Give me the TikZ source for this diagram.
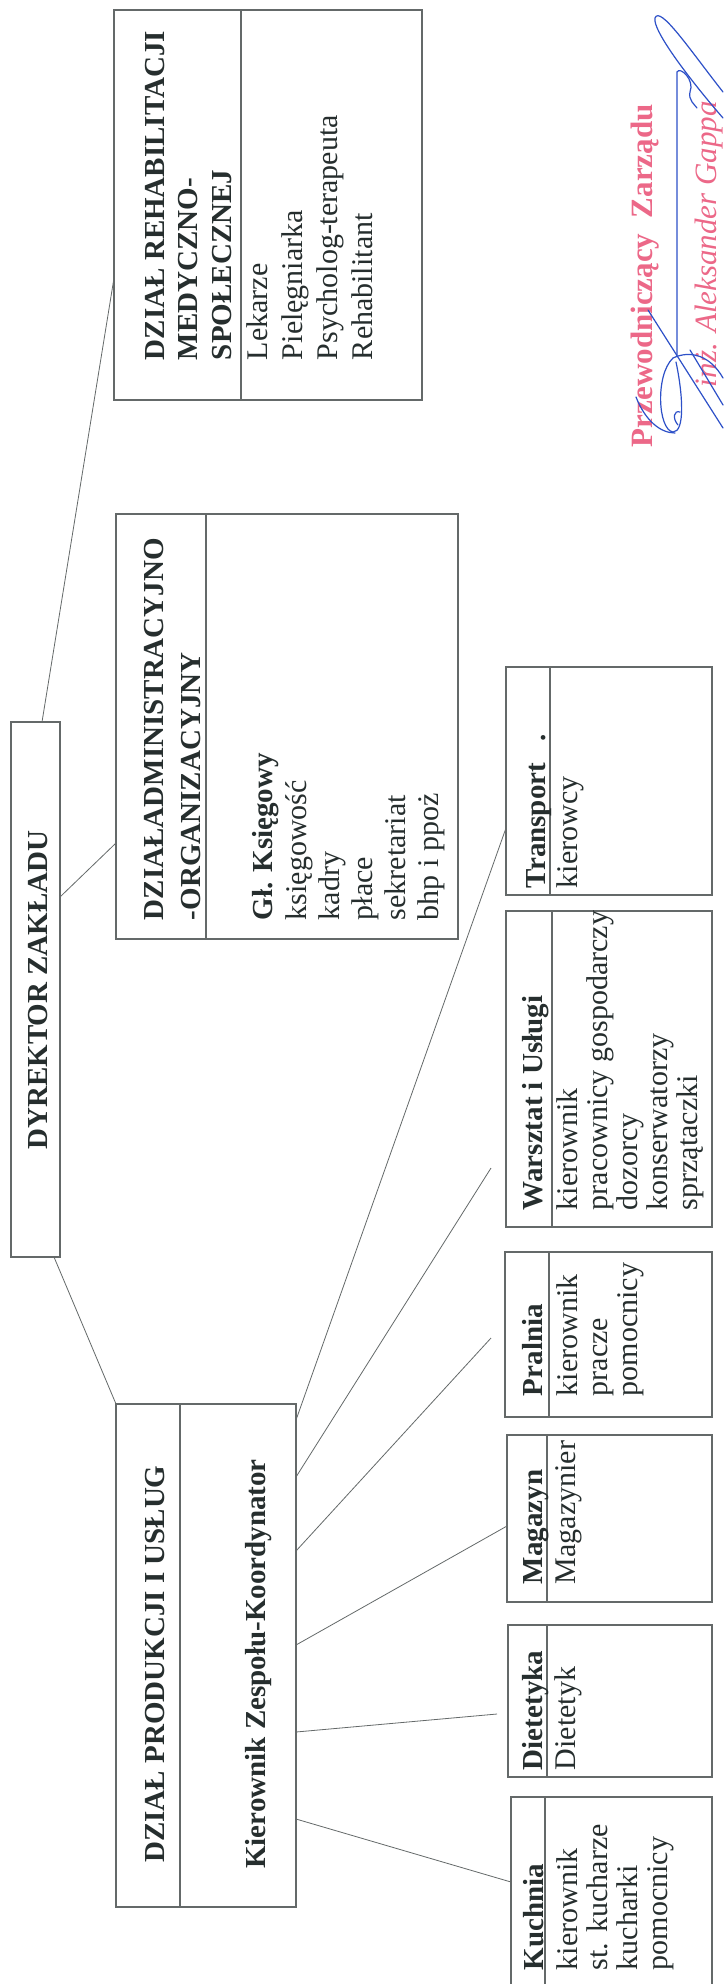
\documentclass[tikz,border=0pt]{standalone}
\usepackage{fontspec}
\setmainfont{Liberation Serif}
\usetikzlibrary{calc}
\definecolor{ink}{RGB}{38,46,46}
\definecolor{edge}{RGB}{100,105,105}
\definecolor{pinkc}{RGB}{236,104,136}
\definecolor{bluec}{RGB}{45,80,200}
\newcommand\stk[1]{\begin{tabular}[t]{@{}l@{}}#1\end{tabular}}
\begin{document}
\begin{tikzpicture}[x=1pt,y=-1pt,
 box/.style={draw=edge,line width=1.1pt,inner sep=0pt,outer sep=0pt},
 divline/.style={draw=edge,line width=1.1pt},
 conn/.style={draw=edge,line width=0.8pt},
 txt/.style={rotate=90,anchor=base west,inner sep=0pt,outer sep=0pt,text=ink,font=\fontsize{30}{30}\selectfont},
 hdr/.style={txt,font=\fontsize{29}{30}\selectfont\bfseries},
 sig/.style={draw=bluec,line width=1.2pt,line cap=round}]
\fill[white] (0,0) rectangle (723,1984);
\useasboundingbox (0,0) rectangle (723,1984);

% boxes
\node[box,minimum width=49pt,minimum height=535pt] (dyr) at (35.5,989.5) {};
\node[box,minimum width=308pt,minimum height=390pt] (rehab) at (268,205) {};
\node[box,minimum width=342pt,minimum height=425pt] (admin) at (287,726.5) {};
\node[box,minimum width=180pt,minimum height=503pt] (prod) at (206,1655.5) {};
\node[box,minimum width=206pt,minimum height=228pt] (transport) at (609,781) {};
\node[box,minimum width=206pt,minimum height=316pt] (warsztat) at (609,1069) {};
\node[box,minimum width=207pt,minimum height=165pt] (pralnia) at (608.5,1334.5) {};
\node[box,minimum width=205pt,minimum height=167pt] (magazyn) at (609.5,1518.5) {};
\node[box,minimum width=204pt,minimum height=152pt] (dietetyka) at (610,1701) {};
\node[box,minimum width=201pt,minimum height=198pt] (kuchnia) at (611.5,1896) {};

% dividers
\draw[divline] (rehab.north -| 241,0) -- (rehab.south -| 241,0);
\draw[divline] (admin.north -| 206,0) -- (admin.south -| 206,0);
\draw[divline] (prod.north -| 180,0) -- (prod.south -| 180,0);
\draw[divline] (transport.north -| 550,0) -- (transport.south -| 550,0);
\draw[divline] (warsztat.north -| 552,0) -- (warsztat.south -| 552,0);
\draw[divline] (pralnia.north -| 549,0) -- (pralnia.south -| 549,0);
\draw[divline] (magazyn.north -| 547,0) -- (magazyn.south -| 547,0);
\draw[divline] (dietetyka.north -| 547,0) -- (dietetyka.south -| 547,0);
\draw[divline] (kuchnia.north -| 545,0) -- (kuchnia.south -| 545,0);

% texts
\node[hdr,anchor=base] (dyrT) at (47,990) {DYREKTOR ZAKŁADU};

\node[txt,font=\fontsize{29}{33.5}\selectfont\bfseries] (rehabT) at (164,360) {\stk{DZIAŁ REHABILITACJI\\MEDYCZNO-\\SPOŁECZNEJ}};
\node[txt,font=\fontsize{30}{35}\selectfont] (rehabL) at (267,360) {\stk{Lekarze\\Pielęgniarka\\Psycholog-terapeuta\\Rehabilitant}};

\node[txt,font=\fontsize{29}{37}\selectfont\bfseries] (adminT) at (163,920) {\stk{DZIAŁADMINISTRACYJNO\\-ORGANIZACYJNY}};
\node[hdr] (adminK) at (272,920) {Gł. Księgowy};
\node[txt,font=\fontsize{30}{33}\selectfont] (adminL) at (306,920) {\stk{księgowość\\kadry\\płace\\sekretariat\\bhp i ppoż}};

\node[hdr,anchor=base] (prodT) at (164,1664) {DZIAŁ PRODUKCJI I USŁUG};
\node[hdr,anchor=base] (prodK) at (265,1664) {Kierownik Zespołu-Koordynator};

\node[hdr] (transH) at (545,888) {Transport\ \ \ .};
\node[txt] (transL) at (577,888) {kierowcy};

\node[hdr] (warsH) at (542,1210) {Warsztat i Usługi};
\node[txt] (warsL) at (577,1210) {\stk{kierownik\\pracownicy gospodarczy\\dozorcy\\konserwatorzy\\sprzątaczki}};

\node[hdr] (pralH) at (542,1396) {Pralnia};
\node[txt] (pralL) at (577,1396) {\stk{kierownik\\pracze\\pomocnicy}};

\node[hdr] (magH) at (542,1584) {Magazyn};
\node[txt] (magL) at (575,1584) {Magazynier};

\node[hdr] (dietH) at (542,1770) {Dietetyka};
\node[txt] (dietL) at (575,1770) {Dietetyk};

\node[hdr] (kuchH) at (543,1970) {Kuchnia};
\node[txt] (kuchL) at (577,1970) {\stk{kierownik\\st. kucharze\\kucharki\\pomocnicy}};

% connectors
\coordinate (wend) at (491,1168);
\coordinate (pend) at (491,1338);
\coordinate (dend) at (497,1714);
\draw[conn] (dyr.north -| 42,0) -- (rehab.west |- 0,278);
\draw[conn] (dyr.east |- 0,897) -- (admin.west |- 0,843);
\draw[conn] (dyr.south -| 54,0) -- (prod.north west);
\draw[conn] (prod.east |- 0,1420) -- (transport.west |- 0,828);
\draw[conn] (prod.east |- 0,1477) -- (wend);
\draw[conn] (prod.east |- 0,1551) -- (pend);
\draw[conn] (prod.east |- 0,1645) -- (magazyn.west |- 0,1526);
\draw[conn] (prod.east |- 0,1732) -- (dend);
\draw[conn] (prod.east |- 0,1819) -- (kuchnia.west |- 0,1882);

% signature
\node[txt,text=pinkc,font=\fontsize{31}{31}\selectfont\bfseries] (przew) at (652,447) {Przewodniczący\ \ Zarządu};
\node[txt,text=pinkc,font=\fontsize{31}{31}\selectfont\itshape] (gappa) at (716,387) {inż. Aleksander Gappa};

\draw[sig] (723,92) .. controls (690,50) and (660,5) .. (655,18) .. controls (652,30) and (690,80) .. (723,118);
\draw[sig] (677,355) -- (677,72) .. controls (680,66) and (695,80) .. (690,92) .. controls (688,100) and (695,105) .. (697,108);
\draw[sig] (648,310) -- (723,428);
\draw[sig] (673,358) .. controls (655,375) and (658,430) .. (673,432) .. controls (685,432) and (683,395) .. (676,362);
\draw[sig] (636,397) .. controls (645,420) and (660,433) .. (675,433);
\draw[sig] (673,358) .. controls (690,350) and (710,355) .. (723,378);
\draw[sig] (690,350) -- (723,405);
\draw[sig] (678,425) .. controls (672,418) and (674,410) .. (680,412);
\end{tikzpicture}
\end{document}
